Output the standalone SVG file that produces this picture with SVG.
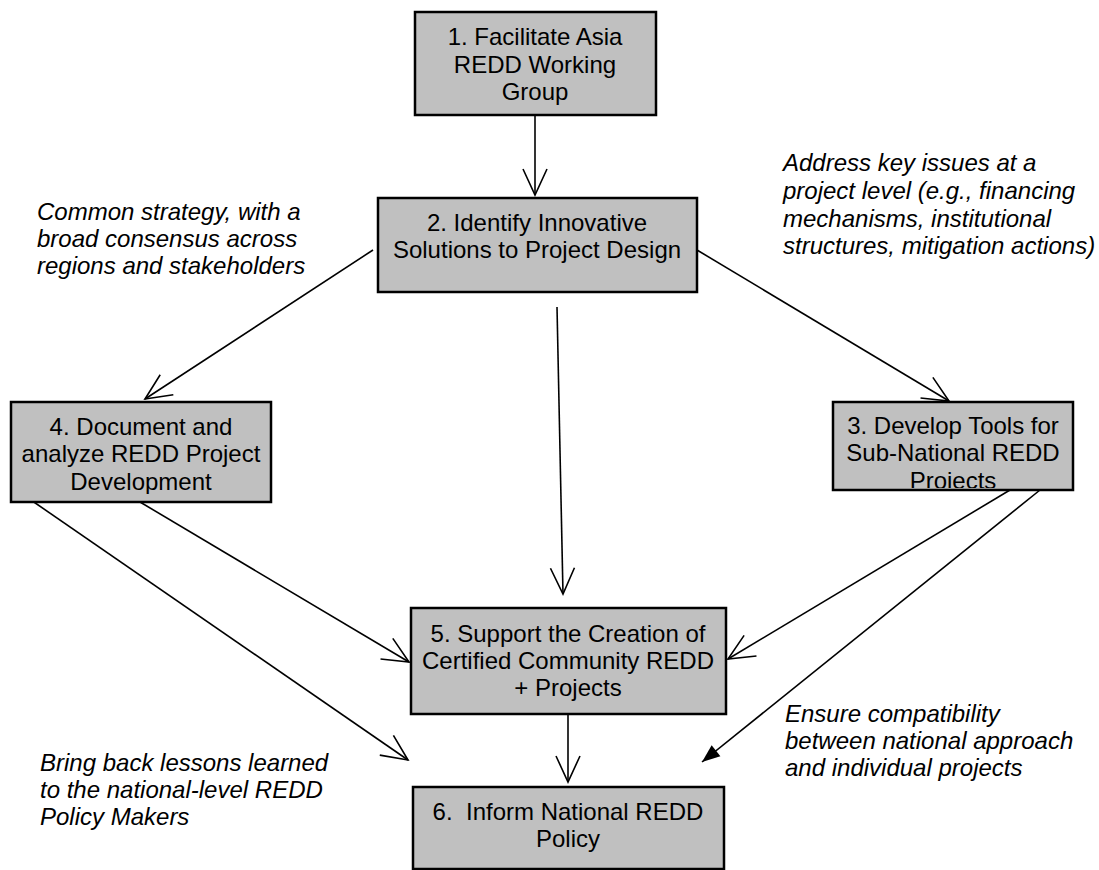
<svg xmlns="http://www.w3.org/2000/svg" width="1099" height="870" viewBox="0 0 1099 870">
<style>
.box{fill:#c0c0c0;stroke:#000;stroke-width:2.5}
.t{font-family:"Liberation Sans",Arial,sans-serif;font-size:24px;fill:#000;text-anchor:middle;white-space:pre}
.n{font-family:"Liberation Sans",Arial,sans-serif;font-size:24px;font-style:italic;fill:#000}
.c{fill:none;stroke:#000;stroke-width:1.6}
</style>
<defs>
<marker id="open" markerUnits="userSpaceOnUse" markerWidth="30" markerHeight="30" viewBox="-27 -15 30 30" refX="0" refY="0" orient="auto">
<path d="M-26,-12 L0,0 L-26,12" fill="none" stroke="#000" stroke-width="1.6"/>
</marker>
<marker id="filled" markerUnits="userSpaceOnUse" markerWidth="24" markerHeight="20" viewBox="-20 -10 22 20" refX="0" refY="0" orient="auto">
<path d="M-18,-7 L0,0 L-18,7 Z" fill="#000"/>
</marker>
<clipPath id="c4"><rect x="11" y="402" width="260" height="92"/></clipPath>
<clipPath id="c3"><rect x="833" y="402" width="240" height="86"/></clipPath>
</defs>
<g id="connectors">
<line class="c" x1="535" y1="115" x2="535" y2="195" marker-end="url(#open)"/>
<line class="c" x1="373" y1="250" x2="145" y2="399" marker-end="url(#open)"/>
<line class="c" x1="697" y1="250" x2="949" y2="401" marker-end="url(#open)"/>
<line class="c" x1="557" y1="307" x2="563" y2="594" marker-end="url(#open)"/>
<line class="c" x1="140" y1="502" x2="409" y2="662" marker-end="url(#open)"/>
<line class="c" x1="28" y1="498" x2="408" y2="760" marker-end="url(#open)"/>
<line class="c" x1="1010" y1="490" x2="728" y2="659" marker-end="url(#open)"/>
<line class="c" x1="1040" y1="490" x2="702" y2="762" marker-end="url(#filled)"/>
<line class="c" x1="568" y1="714" x2="568" y2="782" marker-end="url(#open)"/>
</g>
<g id="node1">
<rect class="box" x="415" y="12" width="241" height="103"/>
<text class="t" x="535" y="45">1. Facilitate Asia</text>
<text class="t" x="535" y="73">REDD Working</text>
<text class="t" x="535" y="100">Group</text>
</g>
<g id="node2">
<rect class="box" x="378" y="198" width="319" height="94"/>
<text class="t" x="537" y="231">2. Identify Innovative</text>
<text class="t" x="537" y="258">Solutions to Project Design</text>
</g>
<g id="node4">
<rect class="box" x="11" y="402" width="260" height="100"/>
<g clip-path="url(#c4)">
<text class="t" x="141" y="435">4. Document and</text>
<text class="t" x="141" y="462">analyze REDD Project</text>
<text class="t" x="141" y="490">Development</text>
</g>
</g>
<g id="node3">
<rect class="box" x="833" y="402" width="240" height="88"/>
<g clip-path="url(#c3)">
<text class="t" x="953" y="434">3. Develop Tools for</text>
<text class="t" x="953" y="461">Sub-National REDD</text>
<text class="t" x="953" y="489">Projects</text>
</g>
</g>
<g id="node5">
<rect class="box" x="411" y="608" width="315" height="106"/>
<text class="t" x="568" y="642">5. Support the Creation of</text>
<text class="t" x="568" y="669">Certified Community REDD</text>
<text class="t" x="568" y="696">+ Projects</text>
</g>
<g id="node6">
<rect class="box" x="413" y="787" width="311" height="82"/>
<text class="t" x="568" y="820">6.  Inform National REDD</text>
<text class="t" x="568" y="847">Policy</text>
</g>
<g id="notes">
<text class="n" x="37" y="220">Common strategy, with a</text>
<text class="n" x="37" y="247">broad consensus across</text>
<text class="n" x="37" y="274">regions and stakeholders</text>
<text class="n" x="783" y="171">Address key issues at a</text>
<text class="n" x="783" y="199">project level (e.g., financing</text>
<text class="n" x="783" y="227">mechanisms, institutional</text>
<text class="n" x="783" y="254">structures, mitigation actions)</text>
<text class="n" x="40" y="771">Bring back lessons learned</text>
<text class="n" x="40" y="798">to the national-level REDD</text>
<text class="n" x="40" y="825">Policy Makers</text>
<text class="n" x="785" y="722">Ensure compatibility</text>
<text class="n" x="785" y="749">between national approach</text>
<text class="n" x="785" y="776">and individual projects</text>
</g>
</svg>
